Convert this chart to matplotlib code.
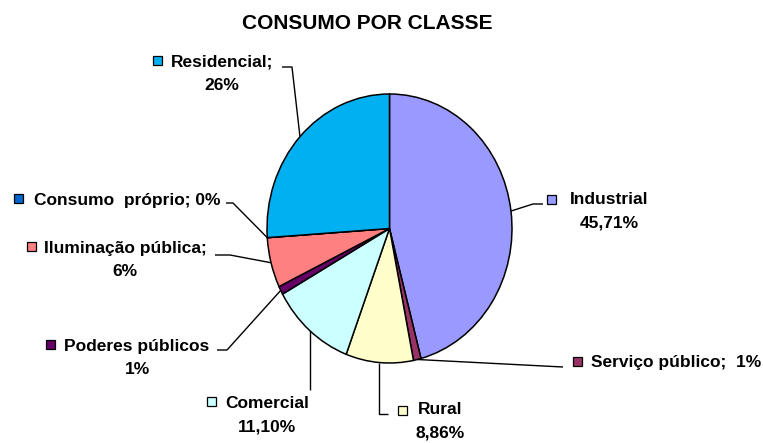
import numpy as np
import matplotlib
matplotlib.use("Agg")
import matplotlib.pyplot as plt
from matplotlib.patches import Rectangle

# slice data, clockwise from 12 o'clock
classes = ["Industrial", "Serviço público", "Rural", "Comercial",
           "Poderes públicos", "Iluminação pública", "Consumo  próprio", "Residencial"]
shares = [45.71, 1, 8.86, 11.10, 1, 6, 0, 26]
label_lines = [["Industrial", "45,71%"], ["Serviço público;  1%"], ["Rural", "8,86%"],
               ["Comercial", "11,10%"], ["Poderes públicos", "1%"],
               ["Iluminação pública;", "6%"], ["Consumo  próprio; 0%"], ["Residencial;", "26%"]]
colors = ["#9999FF", "#993366", "#FFFFCC", "#CCFFFF",
          "#660066", "#FF8080", "#0066CC", "#00B0F0"]

W, H = 763, 443
# label layout in pixels: text centre x, first line y, key square centre
label_pos = [(609, 199), (676, 362), (440, 410), (267, 403),
             (137, 346), (125, 248), (127, 200), (222, 62)]
key_pos = [(551, 199), (577, 361), (402, 410), (211, 401),
           (50, 344), (31, 246), (18, 198), (157, 60)]
# leader line path (after the point on the pie edge)
leader_path = [[(533, 204), (543, 204)], [(563, 367)], [None, (388, 414)],
               [None], [(227, 350), (217, 350)], [(230, 255), (215, 255)],
               [(233, 203), (226, 203)], [(292, 67), (282, 67)]]
leader_drop = {2: 414, 3: 390}

plt.rcParams['font.family'] = ['Liberation Sans', 'DejaVu Sans']

fig = plt.figure(figsize=(W / 100, H / 100), dpi=100)
ov = fig.add_axes([0, 0, 1, 1])
ov.set_xlim(0, W)
ov.set_ylim(H, 0)
ov.axis("off")

# pie box in pixels (left, top, right, bottom)
px0, py0, px1, py1 = 267, 94, 512, 363
ax = fig.add_axes([px0 / W, 1 - py1 / H, (px1 - px0) / W, (py1 - py0) / H], zorder=3)
ax.pie(shares, colors=colors, startangle=90, counterclock=False,
       wedgeprops=dict(edgecolor="black", linewidth=1.1))
ax.set_aspect("auto")
ax.set_xlim(-1, 1)
ax.set_ylim(-1, 1)
ax.axis("off")

total = sum(shares)
cum = np.cumsum([0] + shares[:-1])
for i, v in enumerate(shares):
    theta = np.deg2rad(90 - 360 * (cum[i] + v / 2) / total)
    ex, ey = ax.transData.transform((np.cos(theta), np.sin(theta)))
    ey = H - ey
    pts = [(ex, ey)]
    for p in leader_path[i]:
        if p is None:
            pts.append((ex, leader_drop[i]))
        else:
            pts.append(p)
    if len(pts) > 1:
        xs, ys = zip(*pts)
        ov.plot(xs, ys, color="black", lw=1.0, solid_capstyle="butt")

    tx, ty = label_pos[i]
    for k, line in enumerate(label_lines[i]):
        ov.text(tx, ty + 23.5 * k, line, ha="center", va="center",
                fontsize=12.5, fontweight="bold", color="black")
    kx, ky = key_pos[i]
    ov.add_patch(Rectangle((kx - 4.5, ky - 4.5), 9, 9, facecolor=colors[i],
                           edgecolor="black", lw=0.9))

ov.text(367, 23, "CONSUMO POR CLASSE", ha="center", va="center",
        fontsize=15, fontweight="bold")

fig.savefig("out.png", dpi=100)
